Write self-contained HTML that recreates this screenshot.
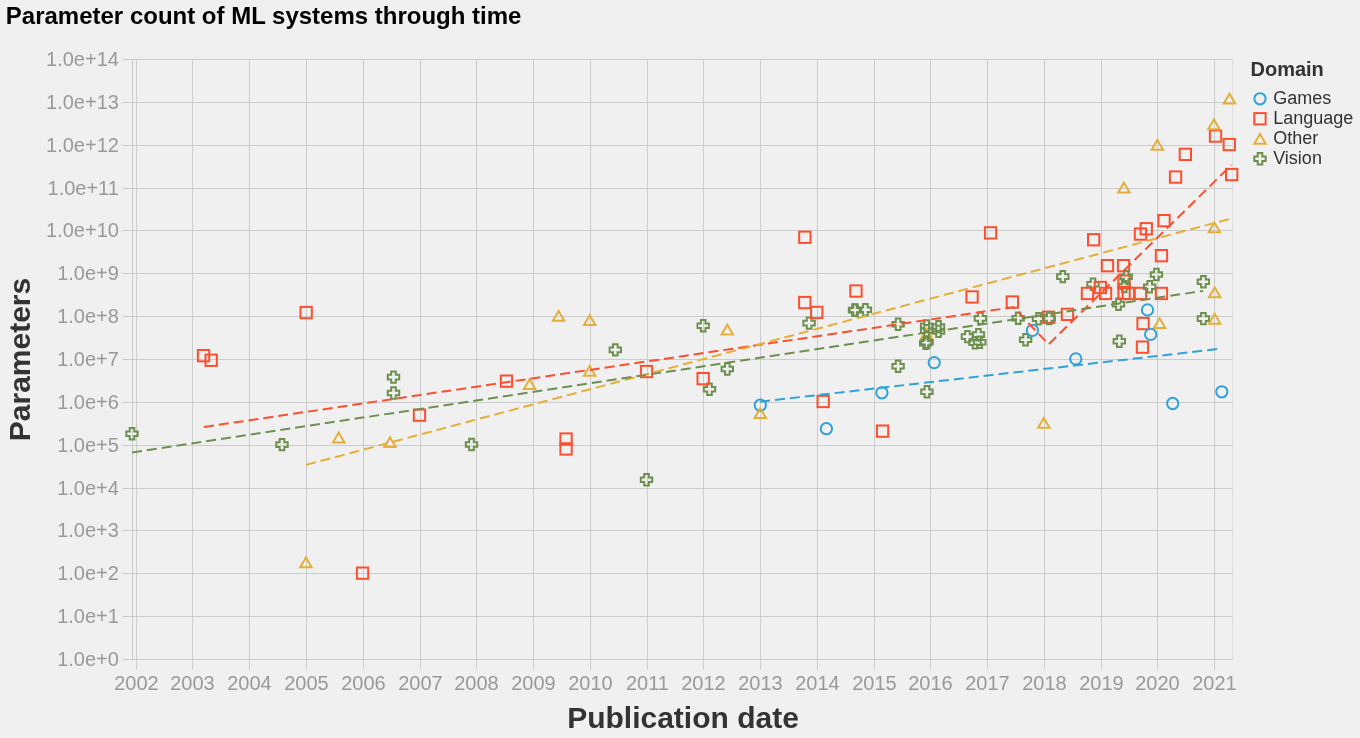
<!DOCTYPE html>
<html lang="en"><head><meta charset="utf-8"><title>Parameter count of ML systems through time</title>
<style>
html,body{margin:0;padding:0;background:#f0f0f0;}
body{width:1360px;height:738px;overflow:hidden;}
svg{display:block;font-family:"Liberation Sans",sans-serif;}
.g line{stroke:#cbcbcb;stroke-width:1;}
.lab{fill:#999;font-size:20px;}
.at{fill:#333;font-size:30px;font-weight:bold;}
.pt{fill:none;stroke-width:2;}
.rl{fill:none;stroke-width:2;stroke-dasharray:10 5;}
</style></head><body>
<svg width="1360" height="738" viewBox="0 0 1360 738">
<rect width="1360" height="738" fill="#f0f0f0"/>
<rect x="132.5" y="59.5" width="1100" height="600" fill="#f0f0f0" stroke="#ddd" stroke-width="1"/>

<g class="g">
<line x1="136.5" y1="59.5" x2="136.5" y2="669.5"/>
<line x1="192.5" y1="59.5" x2="192.5" y2="669.5"/>
<line x1="249.5" y1="59.5" x2="249.5" y2="669.5"/>
<line x1="306.5" y1="59.5" x2="306.5" y2="669.5"/>
<line x1="363.5" y1="59.5" x2="363.5" y2="669.5"/>
<line x1="420.5" y1="59.5" x2="420.5" y2="669.5"/>
<line x1="476.5" y1="59.5" x2="476.5" y2="669.5"/>
<line x1="533.5" y1="59.5" x2="533.5" y2="669.5"/>
<line x1="590.5" y1="59.5" x2="590.5" y2="669.5"/>
<line x1="647.5" y1="59.5" x2="647.5" y2="669.5"/>
<line x1="703.5" y1="59.5" x2="703.5" y2="669.5"/>
<line x1="760.5" y1="59.5" x2="760.5" y2="669.5"/>
<line x1="817.5" y1="59.5" x2="817.5" y2="669.5"/>
<line x1="874.5" y1="59.5" x2="874.5" y2="669.5"/>
<line x1="930.5" y1="59.5" x2="930.5" y2="669.5"/>
<line x1="987.5" y1="59.5" x2="987.5" y2="669.5"/>
<line x1="1044.5" y1="59.5" x2="1044.5" y2="669.5"/>
<line x1="1101.5" y1="59.5" x2="1101.5" y2="669.5"/>
<line x1="1157.5" y1="59.5" x2="1157.5" y2="669.5"/>
<line x1="1214.5" y1="59.5" x2="1214.5" y2="669.5"/>
<line x1="122.5" y1="659.5" x2="1232.5" y2="659.5"/>
<line x1="122.5" y1="616.5" x2="1232.5" y2="616.5"/>
<line x1="122.5" y1="573.5" x2="1232.5" y2="573.5"/>
<line x1="122.5" y1="530.5" x2="1232.5" y2="530.5"/>
<line x1="122.5" y1="488.5" x2="1232.5" y2="488.5"/>
<line x1="122.5" y1="445.5" x2="1232.5" y2="445.5"/>
<line x1="122.5" y1="402.5" x2="1232.5" y2="402.5"/>
<line x1="122.5" y1="359.5" x2="1232.5" y2="359.5"/>
<line x1="122.5" y1="316.5" x2="1232.5" y2="316.5"/>
<line x1="122.5" y1="273.5" x2="1232.5" y2="273.5"/>
<line x1="122.5" y1="230.5" x2="1232.5" y2="230.5"/>
<line x1="122.5" y1="188.5" x2="1232.5" y2="188.5"/>
<line x1="122.5" y1="145.5" x2="1232.5" y2="145.5"/>
<line x1="122.5" y1="102.5" x2="1232.5" y2="102.5"/>
<line x1="122.5" y1="59.5" x2="1232.5" y2="59.5"/>
<line x1="132.5" y1="59.5" x2="132.5" y2="659.5"/>
<line x1="132.5" y1="659.5" x2="1232.5" y2="659.5"/>
</g>
<g class="lab" text-anchor="end">
<text x="118.9" y="665.5">1.0e+0</text>
<text x="118.9" y="622.5">1.0e+1</text>
<text x="118.9" y="579.5">1.0e+2</text>
<text x="118.9" y="536.5">1.0e+3</text>
<text x="118.9" y="494.5">1.0e+4</text>
<text x="118.9" y="451.5">1.0e+5</text>
<text x="118.9" y="408.5">1.0e+6</text>
<text x="118.9" y="365.5">1.0e+7</text>
<text x="118.9" y="322.5">1.0e+8</text>
<text x="118.9" y="279.5">1.0e+9</text>
<text x="118.9" y="236.5">1.0e+10</text>
<text x="118.9" y="194.5">1.0e+11</text>
<text x="118.9" y="151.5">1.0e+12</text>
<text x="118.9" y="108.5">1.0e+13</text>
<text x="118.9" y="65.5">1.0e+14</text>
</g><g class="lab" text-anchor="middle">
<text x="136.5" y="689.7">2002</text>
<text x="192.5" y="689.7">2003</text>
<text x="249.5" y="689.7">2004</text>
<text x="306.5" y="689.7">2005</text>
<text x="363.5" y="689.7">2006</text>
<text x="420.5" y="689.7">2007</text>
<text x="476.5" y="689.7">2008</text>
<text x="533.5" y="689.7">2009</text>
<text x="590.5" y="689.7">2010</text>
<text x="647.5" y="689.7">2011</text>
<text x="703.5" y="689.7">2012</text>
<text x="760.5" y="689.7">2013</text>
<text x="817.5" y="689.7">2014</text>
<text x="874.5" y="689.7">2015</text>
<text x="930.5" y="689.7">2016</text>
<text x="987.5" y="689.7">2017</text>
<text x="1044.5" y="689.7">2018</text>
<text x="1101.5" y="689.7">2019</text>
<text x="1157.5" y="689.7">2020</text>
<text x="1214.5" y="689.7">2021</text>
</g>
<text class="at" text-anchor="middle" x="683.0" y="727.5">Publication date</text>
<text class="at" text-anchor="middle" transform="translate(30,359.5) rotate(-90)">Parameters</text>
<text x="5.8" y="24" font-size="24" font-weight="bold" fill="#000">Parameter count of ML systems through time</text>
<g class="pt">
<path d="M926.6,329.0L920.9,338.8L932.3,338.8Z" stroke="#e5ae38"/>
<path d="M126.3,431.5L126.3,436.1L129.7,436.1L129.7,439.5L134.3,439.5L134.3,436.1L137.7,436.1L137.7,431.5L134.3,431.5L134.3,428.1L129.7,428.1L129.7,431.5Z" stroke="#6d904f"/>
<path d="M276.3,442.3L276.3,446.9L279.7,446.9L279.7,450.3L284.3,450.3L284.3,446.9L287.7,446.9L287.7,442.3L284.3,442.3L284.3,438.9L279.7,438.9L279.7,442.3Z" stroke="#6d904f"/>
<path d="M387.8,374.8L387.8,379.4L391.2,379.4L391.2,382.8L395.8,382.8L395.8,379.4L399.2,379.4L399.2,374.8L395.8,374.8L395.8,371.4L391.2,371.4L391.2,374.8Z" stroke="#6d904f"/>
<path d="M387.8,390.7L387.8,395.3L391.2,395.3L391.2,398.7L395.8,398.7L395.8,395.3L399.2,395.3L399.2,390.7L395.8,390.7L395.8,387.3L391.2,387.3L391.2,390.7Z" stroke="#6d904f"/>
<path d="M465.8,442.2L465.8,446.8L469.2,446.8L469.2,450.2L473.8,450.2L473.8,446.8L477.2,446.8L477.2,442.2L473.8,442.2L473.8,438.8L469.2,438.8L469.2,442.2Z" stroke="#6d904f"/>
<path d="M609.6,347.6L609.6,352.2L613.0,352.2L613.0,355.6L617.6,355.6L617.6,352.2L621.0,352.2L621.0,347.6L617.6,347.6L617.6,344.2L613.0,344.2L613.0,347.6Z" stroke="#6d904f"/>
<path d="M697.5,323.4L697.5,328.0L700.9,328.0L700.9,331.4L705.5,331.4L705.5,328.0L708.9,328.0L708.9,323.4L705.5,323.4L705.5,320.0L700.9,320.0L700.9,323.4Z" stroke="#6d904f"/>
<path d="M703.8,387.0L703.8,391.6L707.2,391.6L707.2,395.0L711.8,395.0L711.8,391.6L715.2,391.6L715.2,387.0L711.8,387.0L711.8,383.6L707.2,383.6L707.2,387.0Z" stroke="#6d904f"/>
<path d="M721.6,366.7L721.6,371.3L725.0,371.3L725.0,374.7L729.6,374.7L729.6,371.3L733.0,371.3L733.0,366.7L729.6,366.7L729.6,363.3L725.0,363.3L725.0,366.7Z" stroke="#6d904f"/>
<path d="M640.8,477.4L640.8,482.0L644.2,482.0L644.2,485.4L648.8,485.4L648.8,482.0L652.2,482.0L652.2,477.4L648.8,477.4L648.8,474.0L644.2,474.0L644.2,477.4Z" stroke="#6d904f"/>
<path d="M803.4,320.8L803.4,325.4L806.8,325.4L806.8,328.8L811.4,328.8L811.4,325.4L814.8,325.4L814.8,320.8L811.4,320.8L811.4,317.4L806.8,317.4L806.8,320.8Z" stroke="#6d904f"/>
<path d="M848.8,307.7L848.8,312.3L852.2,312.3L852.2,315.7L856.8,315.7L856.8,312.3L860.2,312.3L860.2,307.7L856.8,307.7L856.8,304.3L852.2,304.3L852.2,307.7Z" stroke="#6d904f"/>
<path d="M849.8,307.9L849.8,312.5L853.2,312.5L853.2,315.9L857.8,315.9L857.8,312.5L861.2,312.5L861.2,307.9L857.8,307.9L857.8,304.5L853.2,304.5L853.2,307.9Z" stroke="#6d904f"/>
<path d="M859.7,307.5L859.7,312.1L863.1,312.1L863.1,315.5L867.7,315.5L867.7,312.1L871.1,312.1L871.1,307.5L867.7,307.5L867.7,304.1L863.1,304.1L863.1,307.5Z" stroke="#6d904f"/>
<path d="M892.4,321.9L892.4,326.5L895.8,326.5L895.8,329.9L900.4,329.9L900.4,326.5L903.8,326.5L903.8,321.9L900.4,321.9L900.4,318.5L895.8,318.5L895.8,321.9Z" stroke="#6d904f"/>
<path d="M892.4,364.0L892.4,368.6L895.8,368.6L895.8,372.0L900.4,372.0L900.4,368.6L903.8,368.6L903.8,364.0L900.4,364.0L900.4,360.6L895.8,360.6L895.8,364.0Z" stroke="#6d904f"/>
<path d="M921.2,389.5L921.2,394.1L924.6,394.1L924.6,397.5L929.2,397.5L929.2,394.1L932.6,394.1L932.6,389.5L929.2,389.5L929.2,386.1L924.6,386.1L924.6,389.5Z" stroke="#6d904f"/>
<path d="M920.9,323.6L920.9,328.2L924.3,328.2L924.3,331.6L928.9,331.6L928.9,328.2L932.3,328.2L932.3,323.6L928.9,323.6L928.9,320.2L924.3,320.2L924.3,323.6Z" stroke="#6d904f"/>
<path d="M920.9,328.5L920.9,333.1L924.3,333.1L924.3,336.5L928.9,336.5L928.9,333.1L932.3,333.1L932.3,328.5L928.9,328.5L928.9,325.1L924.3,325.1L924.3,328.5Z" stroke="#6d904f"/>
<path d="M932.8,324.3L932.8,328.9L936.2,328.9L936.2,332.3L940.8,332.3L940.8,328.9L944.2,328.9L944.2,324.3L940.8,324.3L940.8,320.9L936.2,320.9L936.2,324.3Z" stroke="#6d904f"/>
<path d="M932.8,329.1L932.8,333.7L936.2,333.7L936.2,337.1L940.8,337.1L940.8,333.7L944.2,333.7L944.2,329.1L940.8,329.1L940.8,325.7L936.2,325.7L936.2,329.1Z" stroke="#6d904f"/>
<path d="M920.0,340.9L920.0,345.5L923.4,345.5L923.4,348.9L928.0,348.9L928.0,345.5L931.4,345.5L931.4,340.9L928.0,340.9L928.0,337.5L923.4,337.5L923.4,340.9Z" stroke="#6d904f"/>
<path d="M921.4,340.0L921.4,344.6L924.8,344.6L924.8,348.0L929.4,348.0L929.4,344.6L932.8,344.6L932.8,340.0L929.4,340.0L929.4,336.6L924.8,336.6L924.8,340.0Z" stroke="#6d904f"/>
<path d="M974.7,316.1L974.7,320.7L978.1,320.7L978.1,324.1L982.7,324.1L982.7,320.7L986.1,320.7L986.1,316.1L982.7,316.1L982.7,312.7L978.1,312.7L978.1,316.1Z" stroke="#6d904f"/>
<path d="M961.7,334.3L961.7,338.9L965.1,338.9L965.1,342.3L969.7,342.3L969.7,338.9L973.1,338.9L973.1,334.3L969.7,334.3L969.7,330.9L965.1,330.9L965.1,334.3Z" stroke="#6d904f"/>
<path d="M972.7,332.3L972.7,336.9L976.1,336.9L976.1,340.3L980.7,340.3L980.7,336.9L984.1,336.9L984.1,332.3L980.7,332.3L980.7,328.9L976.1,328.9L976.1,332.3Z" stroke="#6d904f"/>
<path d="M969.3,340.5L969.3,345.1L972.7,345.1L972.7,348.5L977.3,348.5L977.3,345.1L980.7,345.1L980.7,340.5L977.3,340.5L977.3,337.1L972.7,337.1L972.7,340.5Z" stroke="#6d904f"/>
<path d="M974.1,339.9L974.1,344.5L977.5,344.5L977.5,347.9L982.1,347.9L982.1,344.5L985.5,344.5L985.5,339.9L982.1,339.9L982.1,336.5L977.5,336.5L977.5,339.9Z" stroke="#6d904f"/>
<path d="M1012.5,315.9L1012.5,320.5L1015.9,320.5L1015.9,323.9L1020.5,323.9L1020.5,320.5L1023.9,320.5L1023.9,315.9L1020.5,315.9L1020.5,312.5L1015.9,312.5L1015.9,315.9Z" stroke="#6d904f"/>
<path d="M1019.9,337.5L1019.9,342.1L1023.3,342.1L1023.3,345.5L1027.9,345.5L1027.9,342.1L1031.3,342.1L1031.3,337.5L1027.9,337.5L1027.9,334.1L1023.3,334.1L1023.3,337.5Z" stroke="#6d904f"/>
<path d="M1032.8,316.5L1032.8,321.1L1036.2,321.1L1036.2,324.5L1040.8,324.5L1040.8,321.1L1044.2,321.1L1044.2,316.5L1040.8,316.5L1040.8,313.1L1036.2,313.1L1036.2,316.5Z" stroke="#6d904f"/>
<path d="M1057.1,274.3L1057.1,278.9L1060.5,278.9L1060.5,282.3L1065.1,282.3L1065.1,278.9L1068.5,278.9L1068.5,274.3L1065.1,274.3L1065.1,270.9L1060.5,270.9L1060.5,274.3Z" stroke="#6d904f"/>
<path d="M1087.3,281.9L1087.3,286.5L1090.7,286.5L1090.7,289.9L1095.3,289.9L1095.3,286.5L1098.7,286.5L1098.7,281.9L1095.3,281.9L1095.3,278.5L1090.7,278.5L1090.7,281.9Z" stroke="#6d904f"/>
<path d="M1118.5,284.3L1118.5,288.9L1121.9,288.9L1121.9,292.3L1126.5,292.3L1126.5,288.9L1129.9,288.9L1129.9,284.3L1126.5,284.3L1126.5,280.9L1121.9,280.9L1121.9,284.3Z" stroke="#6d904f"/>
<path d="M1150.7,272.2L1150.7,276.8L1154.1,276.8L1154.1,280.2L1158.7,280.2L1158.7,276.8L1162.1,276.8L1162.1,272.2L1158.7,272.2L1158.7,268.8L1154.1,268.8L1154.1,272.2Z" stroke="#6d904f"/>
<path d="M1112.8,301.9L1112.8,306.5L1116.2,306.5L1116.2,309.9L1120.8,309.9L1120.8,306.5L1124.2,306.5L1124.2,301.9L1120.8,301.9L1120.8,298.5L1116.2,298.5L1116.2,301.9Z" stroke="#6d904f"/>
<path d="M1113.6,339.0L1113.6,343.6L1117.0,343.6L1117.0,347.0L1121.6,347.0L1121.6,343.6L1125.0,343.6L1125.0,339.0L1121.6,339.0L1121.6,335.6L1117.0,335.6L1117.0,339.0Z" stroke="#6d904f"/>
<path d="M1197.7,279.4L1197.7,284.0L1201.1,284.0L1201.1,287.4L1205.7,287.4L1205.7,284.0L1209.1,284.0L1209.1,279.4L1205.7,279.4L1205.7,276.0L1201.1,276.0L1201.1,279.4Z" stroke="#6d904f"/>
<path d="M1197.7,316.3L1197.7,320.9L1201.1,320.9L1201.1,324.3L1205.7,324.3L1205.7,320.9L1209.1,320.9L1209.1,316.3L1205.7,316.3L1205.7,312.9L1201.1,312.9L1201.1,316.3Z" stroke="#6d904f"/>
<circle cx="760.3" cy="405.2" r="5.66" stroke="#30a2da"/>
<rect x="300.5" y="306.9" width="11.31" height="11.31" stroke="#fc4f30"/>
<rect x="197.9" y="350.0" width="11.31" height="11.31" stroke="#fc4f30"/>
<rect x="205.5" y="354.6" width="11.31" height="11.31" stroke="#fc4f30"/>
<rect x="413.8" y="409.5" width="11.31" height="11.31" stroke="#fc4f30"/>
<rect x="500.8" y="375.5" width="11.31" height="11.31" stroke="#fc4f30"/>
<rect x="640.9" y="365.9" width="11.31" height="11.31" stroke="#fc4f30"/>
<rect x="560.4" y="433.4" width="11.31" height="11.31" stroke="#fc4f30"/>
<rect x="560.4" y="443.3" width="11.31" height="11.31" stroke="#fc4f30"/>
<rect x="697.5" y="373.0" width="11.31" height="11.31" stroke="#fc4f30"/>
<rect x="799.1" y="296.9" width="11.31" height="11.31" stroke="#fc4f30"/>
<rect x="811.1" y="306.8" width="11.31" height="11.31" stroke="#fc4f30"/>
<rect x="817.5" y="395.8" width="11.31" height="11.31" stroke="#fc4f30"/>
<rect x="850.3" y="285.4" width="11.31" height="11.31" stroke="#fc4f30"/>
<rect x="876.9" y="425.5" width="11.31" height="11.31" stroke="#fc4f30"/>
<rect x="966.4" y="291.3" width="11.31" height="11.31" stroke="#fc4f30"/>
<rect x="1006.7" y="296.4" width="11.31" height="11.31" stroke="#fc4f30"/>
<rect x="799.2" y="231.6" width="11.31" height="11.31" stroke="#fc4f30"/>
<rect x="984.9" y="227.2" width="11.31" height="11.31" stroke="#fc4f30"/>
<rect x="356.9" y="567.5" width="11.31" height="11.31" stroke="#fc4f30"/>
<rect x="1042.9" y="311.6" width="11.31" height="11.31" stroke="#fc4f30"/>
<rect x="1061.8" y="308.7" width="11.31" height="11.31" stroke="#fc4f30"/>
<rect x="1081.8" y="287.8" width="11.31" height="11.31" stroke="#fc4f30"/>
<rect x="1094.7" y="281.8" width="11.31" height="11.31" stroke="#fc4f30"/>
<rect x="1099.9" y="287.8" width="11.31" height="11.31" stroke="#fc4f30"/>
<rect x="1101.8" y="260.0" width="11.31" height="11.31" stroke="#fc4f30"/>
<rect x="1117.9" y="260.0" width="11.31" height="11.31" stroke="#fc4f30"/>
<rect x="1155.8" y="250.0" width="11.31" height="11.31" stroke="#fc4f30"/>
<rect x="1118.4" y="275.5" width="11.31" height="11.31" stroke="#fc4f30"/>
<rect x="1118.4" y="287.8" width="11.31" height="11.31" stroke="#fc4f30"/>
<rect x="1122.7" y="287.8" width="11.31" height="11.31" stroke="#fc4f30"/>
<rect x="1134.8" y="287.8" width="11.31" height="11.31" stroke="#fc4f30"/>
<rect x="1155.8" y="287.8" width="11.31" height="11.31" stroke="#fc4f30"/>
<rect x="1137.4" y="317.9" width="11.31" height="11.31" stroke="#fc4f30"/>
<rect x="1136.8" y="341.5" width="11.31" height="11.31" stroke="#fc4f30"/>
<rect x="1209.9" y="130.4" width="11.31" height="11.31" stroke="#fc4f30"/>
<rect x="1223.6" y="138.9" width="11.31" height="11.31" stroke="#fc4f30"/>
<rect x="1179.7" y="148.7" width="11.31" height="11.31" stroke="#fc4f30"/>
<rect x="1169.9" y="171.4" width="11.31" height="11.31" stroke="#fc4f30"/>
<rect x="1226.0" y="168.9" width="11.31" height="11.31" stroke="#fc4f30"/>
<rect x="1158.4" y="215.0" width="11.31" height="11.31" stroke="#fc4f30"/>
<rect x="1140.6" y="223.1" width="11.31" height="11.31" stroke="#fc4f30"/>
<rect x="1134.8" y="228.4" width="11.31" height="11.31" stroke="#fc4f30"/>
<rect x="1088.0" y="234.1" width="11.31" height="11.31" stroke="#fc4f30"/>
<path d="M338.7,432.6L333.0,442.4L344.4,442.4Z" stroke="#e5ae38"/>
<path d="M390.0,437.3L384.3,447.1L395.7,447.1Z" stroke="#e5ae38"/>
<path d="M305.9,557.5L300.2,567.3L311.6,567.3Z" stroke="#e5ae38"/>
<path d="M529.6,379.3L523.9,389.1L535.3,389.1Z" stroke="#e5ae38"/>
<path d="M558.6,310.9L552.9,320.7L564.3,320.7Z" stroke="#e5ae38"/>
<path d="M589.7,315.3L584.0,325.1L595.4,325.1Z" stroke="#e5ae38"/>
<path d="M589.7,365.9L584.0,375.7L595.4,375.7Z" stroke="#e5ae38"/>
<path d="M727.3,324.7L721.6,334.5L733.0,334.5Z" stroke="#e5ae38"/>
<path d="M760.3,408.3L754.6,418.1L766.0,418.1Z" stroke="#e5ae38"/>
<path d="M1043.8,417.9L1038.1,427.7L1049.5,427.7Z" stroke="#e5ae38"/>
<path d="M1159.6,318.3L1153.9,328.1L1165.3,328.1Z" stroke="#e5ae38"/>
<path d="M1214.7,287.4L1209.0,297.2L1220.4,297.2Z" stroke="#e5ae38"/>
<path d="M1214.7,313.9L1209.0,323.7L1220.4,323.7Z" stroke="#e5ae38"/>
<path d="M1229.5,93.7L1223.8,103.5L1235.2,103.5Z" stroke="#e5ae38"/>
<path d="M1213.9,119.5L1208.2,129.3L1219.6,129.3Z" stroke="#e5ae38"/>
<path d="M1157.3,140.0L1151.6,149.8L1163.0,149.8Z" stroke="#e5ae38"/>
<path d="M1123.9,182.8L1118.2,192.6L1129.6,192.6Z" stroke="#e5ae38"/>
<path d="M1214.4,222.5L1208.7,232.3L1220.1,232.3Z" stroke="#e5ae38"/>
<circle cx="826.4" cy="428.7" r="5.66" stroke="#30a2da"/>
<circle cx="881.9" cy="392.8" r="5.66" stroke="#30a2da"/>
<circle cx="934.2" cy="362.6" r="5.66" stroke="#30a2da"/>
<circle cx="1032.4" cy="330.4" r="5.66" stroke="#30a2da"/>
<circle cx="1075.8" cy="358.9" r="5.66" stroke="#30a2da"/>
<circle cx="1147.5" cy="309.9" r="5.66" stroke="#30a2da"/>
<circle cx="1150.7" cy="334.4" r="5.66" stroke="#30a2da"/>
<circle cx="1172.7" cy="403.5" r="5.66" stroke="#30a2da"/>
<circle cx="1221.8" cy="391.8" r="5.66" stroke="#30a2da"/>
<path d="M1043.5,316.2L1043.5,320.8L1046.9,320.8L1046.9,324.2L1051.5,324.2L1051.5,320.8L1054.9,320.8L1054.9,316.2L1051.5,316.2L1051.5,312.8L1046.9,312.8L1046.9,316.2Z" stroke="#6d904f"/>
<path d="M1120.5,274.4L1120.5,279.0L1123.9,279.0L1123.9,282.4L1128.5,282.4L1128.5,279.0L1131.9,279.0L1131.9,274.4L1128.5,274.4L1128.5,271.0L1123.9,271.0L1123.9,274.4Z" stroke="#6d904f"/>
<path d="M1144.0,284.5L1144.0,289.1L1147.4,289.1L1147.4,292.5L1152.0,292.5L1152.0,289.1L1155.4,289.1L1155.4,284.5L1152.0,284.5L1152.0,281.1L1147.4,281.1L1147.4,284.5Z" stroke="#6d904f"/>
</g>
<g class="rl">
<path stroke="#30a2da" d="M760.1,401.7L1217.1,349.1"/>
<path stroke="#fc4f30" d="M204,427L1013.4,307.2L1048.6,344.4L1231.5,164.9"/>
<path stroke="#e5ae38" d="M306.0,464.9L1228.8,219.2"/>
<path stroke="#6d904f" d="M132.0,452.4L1203.1,290.9"/>
</g>
<text x="1250.5" y="75.5" font-size="20" font-weight="bold" fill="#333">Domain</text>
<g class="pt">
<circle cx="1260.0" cy="98.8" r="5.66" stroke="#30a2da"/>
<rect x="1254.3" y="113.1" width="11.31" height="11.31" stroke="#fc4f30"/>
<path d="M1260.0,133.9L1254.3,143.7L1265.7,143.7Z" stroke="#e5ae38"/>
<path d="M1254.3,156.5L1254.3,161.1L1257.7,161.1L1257.7,164.5L1262.3,164.5L1262.3,161.1L1265.7,161.1L1265.7,156.5L1262.3,156.5L1262.3,153.1L1257.7,153.1L1257.7,156.5Z" stroke="#6d904f"/>
</g>
<g font-size="18" fill="#333">
<text x="1273.2" y="104.2">Games</text>
<text x="1273.2" y="124.2">Language</text>
<text x="1273.2" y="144.2">Other</text>
<text x="1273.2" y="164.2">Vision</text>
</g>
</svg></body></html>
